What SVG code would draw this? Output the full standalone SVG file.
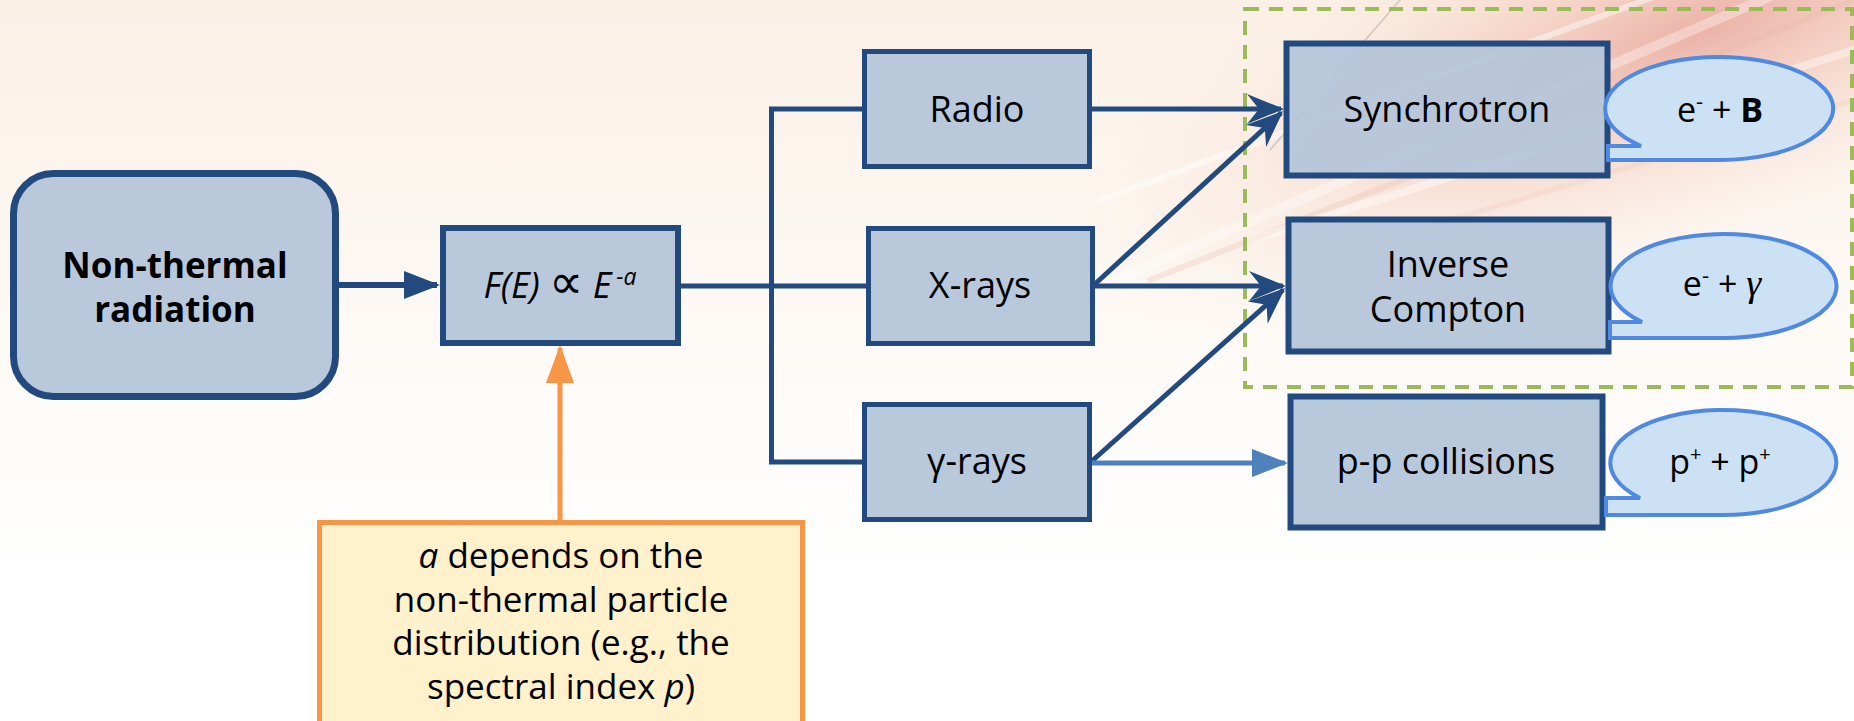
<svg xmlns="http://www.w3.org/2000/svg" width="1854" height="721" viewBox="0 0 1854 721">
<style>
.box{fill:#b3c4d9;fill-opacity:0.92;stroke:#224a7e;stroke-width:6;stroke-linejoin:miter}
.t{font-family:"Open Sans","Noto Sans","DejaVu Sans",sans-serif;font-size:36px;fill:#000;text-anchor:middle}
.b{font-weight:bold;font-size:35px}
.n{font-size:35px}
.bub{fill:#cde1f4;stroke:#5089e2;stroke-width:4}
.bt{font-family:"Open Sans","Noto Sans","DejaVu Sans",sans-serif;font-size:34px;fill:#000;text-anchor:middle}
.con{fill:none;stroke:#224a7e;stroke-width:5}
</style>
<defs>
<linearGradient id="bgv" x1="0" y1="0" x2="0" y2="1">
<stop offset="0" stop-color="#fbf0e6"/>
<stop offset="0.45" stop-color="#fdf9f5"/>
<stop offset="0.8" stop-color="#ffffff"/>
</linearGradient>
<radialGradient id="glow" gradientUnits="userSpaceOnUse" cx="0" cy="0" r="1" gradientTransform="translate(1700 30) rotate(-20) scale(680 210)">
<stop offset="0" stop-color="#e9a79c" stop-opacity="0.85"/>
<stop offset="0.45" stop-color="#f2c4b4" stop-opacity="0.5"/>
<stop offset="1" stop-color="#fbe8dc" stop-opacity="0"/>
</radialGradient>
<marker id="stealth" markerUnits="userSpaceOnUse" orient="auto" viewBox="-40 -18 46 36" refX="0" refY="0" markerWidth="46" markerHeight="36">
<path d="M3,0 L-34,-15 L-22,0 L-34,15 Z" fill="#224a7e"/>
</marker>
<marker id="tri" markerUnits="userSpaceOnUse" orient="auto" viewBox="-40 -18 46 36" refX="0" refY="0" markerWidth="46" markerHeight="36">
<path d="M3,0 L-33,-14 L-33,14 Z" fill="#224a7e"/>
</marker>
<marker id="triL" markerUnits="userSpaceOnUse" orient="auto" viewBox="-40 -18 46 36" refX="0" refY="0" markerWidth="46" markerHeight="36">
<path d="M3,0 L-33,-14 L-33,14 Z" fill="#4f81bd"/>
</marker>
<marker id="triO" markerUnits="userSpaceOnUse" orient="auto" viewBox="-40 -18 46 36" refX="0" refY="0" markerWidth="46" markerHeight="36">
<path d="M3,0 L-35,-14 L-35,14 Z" fill="#f79646"/>
</marker>
</defs>

<g id="background">
<rect x="0" y="0" width="1854" height="721" fill="url(#bgv)"/>
<rect x="0" y="0" width="1854" height="721" fill="url(#glow)"/>
<g stroke-linecap="round" fill="none">
<line x1="1000" y1="330" x2="1854" y2="-40" stroke="#ffffff" stroke-width="10" stroke-opacity="0.35"/>
<line x1="1150" y1="280" x2="1854" y2="0" stroke="#e9b3a6" stroke-width="6" stroke-opacity="0.25"/>
<line x1="1250" y1="240" x2="1854" y2="50" stroke="#ffffff" stroke-width="8" stroke-opacity="0.4"/>
<line x1="1350" y1="250" x2="1854" y2="100" stroke="#efc2b3" stroke-width="5" stroke-opacity="0.25"/>
<line x1="1100" y1="200" x2="1700" y2="-20" stroke="#ffffff" stroke-width="6" stroke-opacity="0.45"/>
<line x1="1400" y1="0" x2="1270" y2="150" stroke="#9c9c9c" stroke-width="1.5" stroke-opacity="0.45"/>
</g>
</g>

<rect id="group-frame" x="1245" y="9" width="607" height="378" fill="none" stroke="#9bbb59" stroke-width="4" stroke-dasharray="14 10"/>

<g id="connectors">
<line class="con" x1="339" y1="285" x2="437" y2="285" style="stroke-width:6" marker-end="url(#tri)"/>
<line class="con" x1="681" y1="286" x2="866" y2="286"/>
<polyline class="con" points="862,109 771.5,109 771.5,462 862,462"/>
<line class="con" x1="1092" y1="109" x2="1281" y2="109" marker-end="url(#stealth)"/>
<line class="con" x1="1095" y1="284" x2="1281" y2="113" marker-end="url(#stealth)"/>
<line class="con" x1="1095" y1="286" x2="1283" y2="286" marker-end="url(#stealth)"/>
<line class="con" x1="1092" y1="461" x2="1283" y2="290" marker-end="url(#stealth)"/>
<line class="con" x1="1092" y1="463" x2="1285" y2="463" style="stroke:#4f81bd" marker-end="url(#triL)"/>
<line class="con" x1="560" y1="520" x2="560" y2="348" style="stroke:#f79646;stroke-width:5" marker-end="url(#triO)"/>
</g>

<g id="node-nonthermal">
<rect class="box" x="13.5" y="173.5" width="322" height="223" rx="40" style="stroke-width:7"/>
<text class="t b" x="175" y="278">Non-thermal</text>
<text class="t b" x="175" y="322">radiation</text>
</g>

<g id="node-fe">
<rect class="box" x="443" y="228" width="235" height="115"/>
<text class="t" x="560" y="298" font-style="italic">F(E) <tspan font-family="DejaVu Sans" font-style="normal" font-size="48">∝</tspan> E<tspan dx="5" dy="-13" font-size="23">-a</tspan></text>
</g>

<g id="node-radio">
<rect class="box" x="864.5" y="51.5" width="225" height="115" style="stroke-width:5"/>
<text class="t" x="977" y="122">Radio</text>
</g>

<g id="node-xrays">
<rect class="box" x="868.5" y="228.5" width="224" height="115" style="stroke-width:5"/>
<text class="t" x="980" y="298">X-rays</text>
</g>

<g id="node-gammarays">
<rect class="box" x="864.5" y="404.5" width="225" height="115" style="stroke-width:5"/>
<text class="t" x="977" y="474">γ-rays</text>
</g>

<g id="node-synchrotron">
<rect class="box" x="1286.5" y="43.5" width="321" height="132"/>
<text class="t" x="1447" y="122">Synchrotron</text>
</g>

<g id="node-inverse-compton">
<rect class="box" x="1288.5" y="219.5" width="320" height="132"/>
<text class="t" x="1448" y="277">Inverse</text>
<text class="t" x="1448" y="322">Compton</text>
</g>

<g id="node-pp">
<rect class="box" x="1290.5" y="396.5" width="312" height="131"/>
<text class="t" x="1446" y="474">p-p collisions</text>
</g>

<g id="bubble-sync">
<path class="bub" d="M1641,146 A114,51.5 0 1 1 1721,160 L1608,160 L1608,146 Z"/>
<text class="bt" x="1720" y="122">e<tspan dy="-13" font-size="22">-</tspan><tspan dy="13"> + </tspan><tspan font-weight="bold">B</tspan></text>
</g>

<g id="bubble-ic">
<path class="bub" d="M1642,322 A113,52 0 1 1 1722,338 L1610,338 L1610,322 Z"/>
<text class="bt" x="1722" y="296">e<tspan dy="-13" font-size="22">-</tspan><tspan dy="13"> + </tspan><tspan font-family="Liberation Serif" font-style="italic" font-size="38">γ</tspan></text>
</g>

<g id="bubble-pp">
<path class="bub" d="M1640,498 A113,52.5 0 1 1 1719,515 L1606,515 L1606,498 Z"/>
<text class="bt" x="1720" y="474">p<tspan dy="-13" font-size="20">+</tspan><tspan dy="13"> + p</tspan><tspan dy="-13" font-size="20">+</tspan></text>
</g>

<g id="node-annotation">
<rect x="319.5" y="522.5" width="483" height="215" fill="#fff1cc" stroke="#f79646" stroke-width="5"/>
<text class="t n" x="561" y="568"><tspan font-style="italic">a</tspan> depends on the</text>
<text class="t n" x="561" y="612">non-thermal particle</text>
<text class="t n" x="561" y="655">distribution (e.g., the</text>
<text class="t n" x="561" y="699">spectral index <tspan font-style="italic">p</tspan>)</text>
</g>
</svg>
